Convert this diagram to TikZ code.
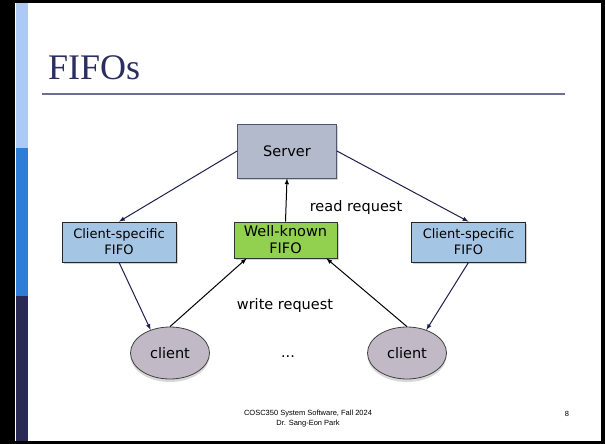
\documentclass[tikz,border=0pt]{standalone}
\usepackage{fontspec}
\setmainfont{DejaVu Sans}
\newfontfamily\titlefont{Liberation Serif}
\newfontfamily\footfont{Liberation Sans}
\usetikzlibrary{shapes}
\usetikzlibrary{shadows}

\definecolor{titlenavy}{HTML}{2B2E5E}
\definecolor{rulegray}{HTML}{6C7090}
\definecolor{barlight}{HTML}{ADC9F5}
\definecolor{barmid}{HTML}{2E7DD6}
\definecolor{bardark}{HTML}{2A2B55}
\definecolor{serverfill}{HTML}{B3BACB}
\definecolor{serverline}{HTML}{4F5872}
\definecolor{knowngreen}{HTML}{92D050}
\definecolor{clientblue}{HTML}{A5C5E5}
\definecolor{clientfill}{HTML}{C2B9C7}
\definecolor{arrownavy}{HTML}{1F1F4F}

\begin{document}
\begin{tikzpicture}[x=1pt,y=-1pt,
	box/.style={draw, rectangle, inner sep=0pt, align=center, line width=0.8pt,
		font=\fontsize{14.5}{17}\selectfont,
		drop shadow={shadow xshift=1.5pt,shadow yshift=-1.5pt,opacity=0.35}},
	proc/.style={draw, ellipse, inner sep=0pt, minimum width=79pt, minimum height=52pt,
		fill=clientfill, draw=black!75, line width=0.8pt, font=\fontsize{14.5}{17}\selectfont,
		drop shadow={shadow xshift=0pt,shadow yshift=-3pt,opacity=0.3}},
	lbl/.style={font=\fontsize{14.5}{17}\selectfont}]
	\useasboundingbox (0,0) rectangle (605,444);
	\fill[black] (0,0) rectangle (605,444);
	\fill[white] (15,3) rectangle (601,441);
	\foreach \top/\bot/\col in {3/148/barlight,148/296/barmid,296/441/bardark}{
		\fill[\col] (16,\top) rectangle (28,\bot);
	}
	\node[anchor=base west, inner sep=0pt, text=titlenavy, font=\titlefont\fontsize{36}{40}\selectfont] (title) at (48,80) {FIFOs};
	\draw[rulegray, line width=2pt] (42,94) -- (565,94);

	\node[box, fill=serverfill, draw=serverline, minimum width=99pt, minimum height=54pt] (server) at (287,151) {Server};
	\node[box, fill=knowngreen, draw=black!80, minimum width=103pt, minimum height=36pt] (known) at (285.5,240) {Well-known\\FIFO};
	\node[box, fill=clientblue, draw=black!85, minimum width=114pt, minimum height=40pt, font=\fontsize{13}{16}\selectfont] (csl) at (119,242) {Client-specific\\FIFO};
	\node[box, fill=clientblue, draw=black!85, minimum width=114pt, minimum height=40pt, font=\fontsize{13}{16}\selectfont] (csr) at (468.5,242) {Client-specific\\FIFO};
	\node[proc] (cl) at (170,353) {client};
	\node[proc] (cr) at (407,353) {client};
	\node[lbl] (read) at (356,207) {read request};
	\node[lbl] (write) at (285,305) {write request};
	\node[lbl] (dots) at (288,357) {...};

	\draw[->,>=latex, arrownavy, line width=1pt] (server.west) -- (csl.north);
	\draw[->,>=latex, arrownavy, line width=1pt] (server.east) -- (csr.north);
	\draw[->,>=latex, arrownavy, line width=1pt] (csl.south) -- (cl.130);
	\draw[->,>=latex, arrownavy, line width=1pt] (csr.south) -- (cr.50);
	\draw[->,>=latex, line width=1pt] (known.north) -- (server.south);
	\draw[->,>=latex, line width=1pt] (cl.north) -- ([xshift=13pt]known.south west);
	\draw[->,>=latex, line width=1pt] (cr.north) -- ([xshift=-11pt]known.south east);

	\node[align=center, inner sep=0pt, font=\footfont\fontsize{7.5}{10}\selectfont] (foot) at (308,419) {COSC350 System Software, Fall 2024\\Dr. Sang-Eon Park};
	\node[inner sep=0pt, font=\footfont\fontsize{7.5}{10}\selectfont] (page) at (567,414) {8};
\end{tikzpicture}
\end{document}
